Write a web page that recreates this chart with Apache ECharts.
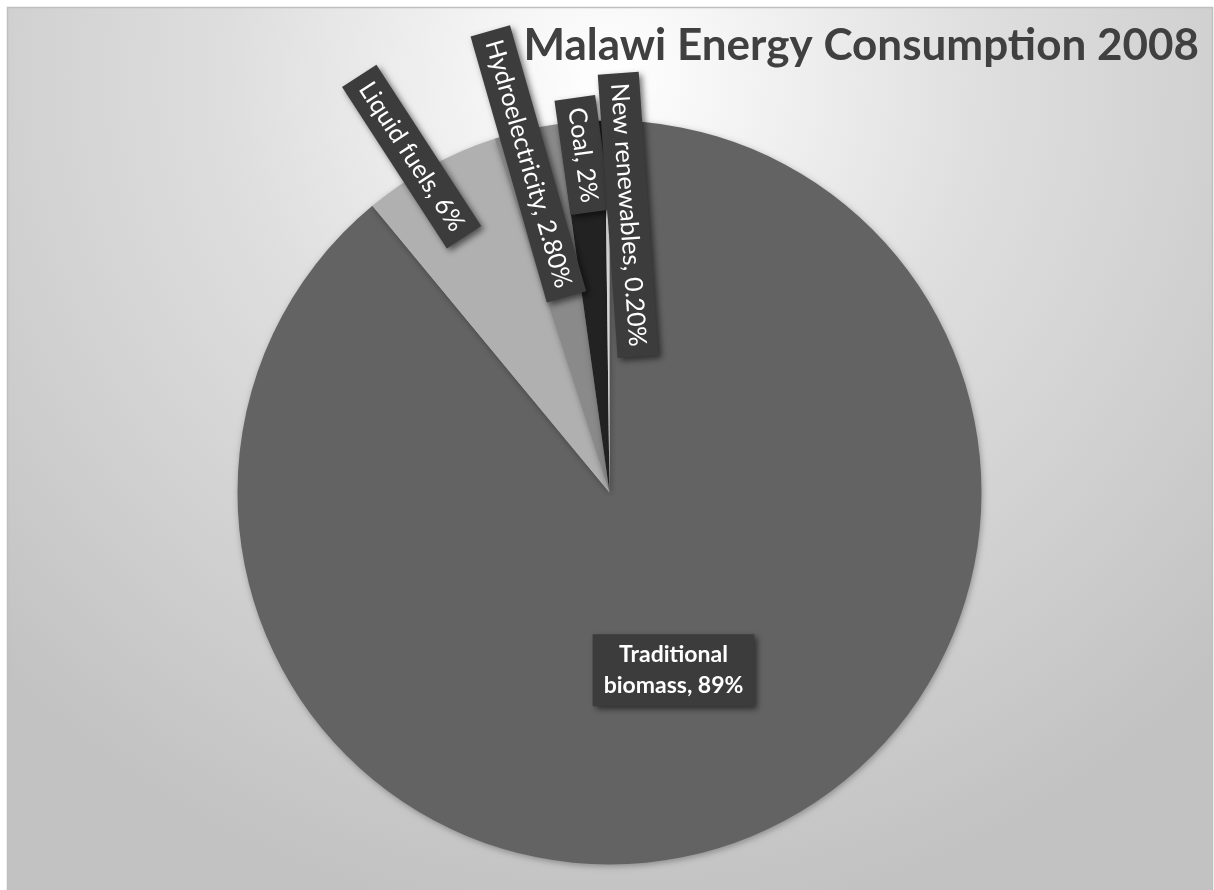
<!DOCTYPE html>
<html>
<head>
<meta charset="utf-8">
<script src="https://cdn.jsdelivr.net/npm/echarts@6/dist/echarts.min.js"></script>
<style>
html,body{margin:0;padding:0;background:#ffffff;}
#main{width:1214px;height:890px;}
</style>
</head>
<body>
<div id="main"></div>
<script>
// ---- data ----
const categories = ['Traditional biomass', 'Liquid fuels', 'Hydroelectricity', 'Coal', 'New renewables'];
const labelNames = ['Traditional\nbiomass', 'Liquid fuels', 'Hydroelectricity', 'Coal', 'New renewables'];
const values = [89, 6, 2.8, 2, 0.2];
const valueLabels = ['89%', '6%', '2.80%', '2%', '0.20%'];
const titleText = 'Malawi Energy Consumption 2008';

// ---- styles / layout ----
const colors = ['#636363', '#b0b0b0', '#8a8a8a', '#222222', '#d6d6d6'];
const CX = 609.5, CY = 492.5, R = 372;
// label placement: radius factor, angle shift (deg, clockwise), rotation (deg); null = default inside
const labelRadius = [null, 1.048, 0.91, 0.91, 0.748];
const labelAngleShift = [0, -1.7, -0.9, -0.2, 4.2];
const labelRotate = [0, -57, -74, -82, -86];
const FONT = 'Lato, "Open Sans", sans-serif';

const total = values.reduce((a, b) => a + b, 0);
function midAngleFromTop(i) {
  // clockwise degrees from 12 o'clock
  let acc = 0;
  for (let k = 0; k < i; k++) acc += values[k];
  return (acc + values[i] / 2) / total * 360;
}

const chart = echarts.init(document.getElementById('main'), null, {renderer: 'canvas'});
const option = {
  backgroundColor: '#ffffff',
  animation: false,
  graphic: [{
    type: 'rect',
    z: -10,
    silent: true,
    shape: {x: 7.5, y: 7.5, width: 1205, height: 890},
    style: {
      fill: {
        type: 'radial', x: 0.5, y: 0.08, r: 0.95, global: false,
        colorStops: [
          {offset: 0, color: '#ffffff'},
          {offset: 0.45, color: '#dedede'},
          {offset: 1, color: '#c2c2c2'}
        ]
      },
      stroke: '#bfbfbf',
      lineWidth: 1.5
    }
  }],
  title: {
    text: titleText,
    right: 10,
    top: 19,
    textStyle: {fontFamily: FONT, fontSize: 44, fontWeight: 'bold', color: '#404040'}
  },
  series: [{
    type: 'pie',
    center: [CX, CY],
    radius: R,
    startAngle: 90,
    clockwise: true,
    avoidLabelOverlap: false,
    labelLine: {show: false},
    itemStyle: {
      shadowBlur: 6,
      shadowColor: 'rgba(0,0,0,0.3)',
      shadowOffsetX: 1,
      shadowOffsetY: 2
    },
    label: {
      show: true,
      position: 'inside',
      color: '#ffffff',
      fontFamily: FONT,
      fontSize: 25,
      lineHeight: 29,
      backgroundColor: '#3c3c3c',
      padding: [6, 10],
      shadowBlur: 6,
      shadowColor: 'rgba(0,0,0,0.55)',
      shadowOffsetX: 3,
      shadowOffsetY: 3,
      formatter: function (p) {
        return labelNames[p.dataIndex] + ', ' + valueLabels[p.dataIndex];
      }
    },
    labelLayout: function (p) {
      const i = p.dataIndex;
      if (labelRadius[i] == null) return {};
      const a = (midAngleFromTop(i) + labelAngleShift[i]) * Math.PI / 180;
      return {
        x: CX + Math.sin(a) * R * labelRadius[i],
        y: CY - Math.cos(a) * R * labelRadius[i],
        rotate: labelRotate[i]
      };
    },
    data: categories.map((c, i) => ({
      name: c,
      value: values[i],
      itemStyle: {color: colors[i]},
      label: i === 0
        ? {fontWeight: 'bold', fontSize: 23, lineHeight: 31, padding: [5, 11]}
        : {}
    }))
  }]
};
chart.setOption(option);
</script>
</body>
</html>
